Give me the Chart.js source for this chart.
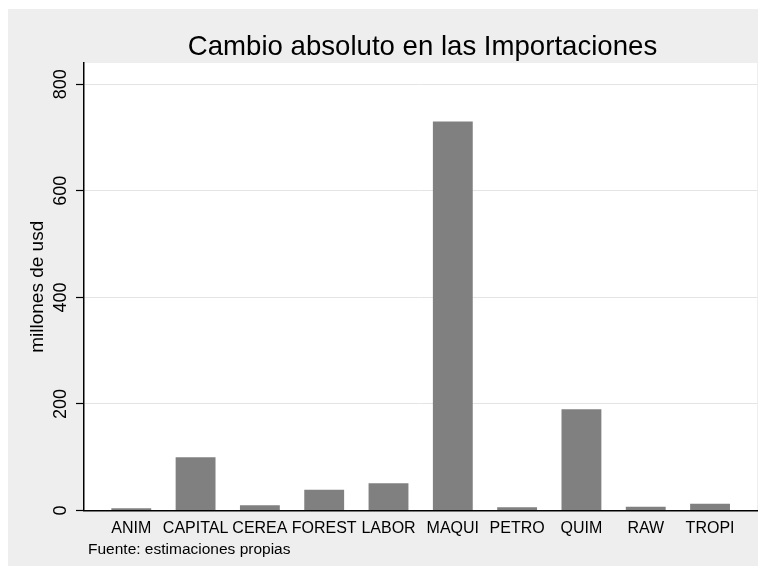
<!DOCTYPE html>
<html>
<head>
<meta charset="utf-8">
<script src="https://cdn.jsdelivr.net/npm/chart.js@4"></script>
<style>
  html, body { margin: 0; padding: 0; background: #fff; }
</style>
</head>
<body>
<canvas id="myChart" width="761" height="574"></canvas>
<script>
// datos del grafico
var categories = ['ANIM', 'CAPITAL', 'CEREA', 'FOREST', 'LABOR', 'MAQUI', 'PETRO', 'QUIM', 'RAW', 'TROPI'];
var values = [4, 100, 10, 39, 51, 730, 6, 190, 7, 12.5];
var yTicks = [0, 200, 400, 600, 800];
var chartTitle = 'Cambio absoluto en las Importaciones';
var yTitle = 'millones de usd';
var note = 'Fuente: estimaciones propias';

var FONT = '"Liberation Sans", Arial, Helvetica, sans-serif';

// fondo gris + region blanca del grafico, y los textos de titulo / nota
var stataLook = {
    id: 'stataLook',
    beforeDraw: function (chart) {
        var ctx = chart.ctx, a = chart.chartArea;
        ctx.save();
        ctx.fillStyle = '#ffffff';
        ctx.fillRect(0, 0, chart.width, chart.height);
        ctx.fillStyle = '#eeeeee';
        ctx.fillRect(8, 9, 750, 557);
        ctx.fillStyle = '#ffffff';
        ctx.fillRect(a.left, a.top, a.right - a.left, a.bottom - a.top);
        ctx.restore();
    },
    afterDraw: function (chart) {
        var ctx = chart.ctx, a = chart.chartArea;
        ctx.save();
        ctx.fillStyle = '#000';
        ctx.textBaseline = 'alphabetic';
        ctx.font = '27.6px ' + FONT;
        ctx.textAlign = 'center';
        ctx.fillText(chartTitle, (a.left + a.right) / 2 + 2, 55);
        ctx.font = '15.5px ' + FONT;
        ctx.textAlign = 'left';
        ctx.fillText(note, 88, 554);
        ctx.restore();
    }
};

var ctx = document.getElementById('myChart').getContext('2d');
var myChart = new Chart(ctx, {
    type: 'bar',
    data: {
        datasets: [{
            data: values.map((v, i) => ({ x: i, y: v })),
            backgroundColor: '#808080',
            borderWidth: 0,
            categoryPercentage: 1,
            barPercentage: 0.62
        }]
    },
    options: {
        responsive: false,
        animation: false,
        devicePixelRatio: 1,
        layout: { padding: { left: 8, right: 4, top: 63, bottom: 0 } },
        plugins: {
            legend: { display: false },
            tooltip: { enabled: false },
            title: { display: false }
        },
        scales: {
            x: {
                type: 'linear',
                offset: false,
                min: -0.735,
                max: 9.73,
                afterBuildTicks: s => { s.ticks = categories.map((c, i) => ({ value: i })); },
                afterFit: s => { s.height = 63.5; },
                grid: { display: false, drawTicks: false },
                border: { display: true, color: '#000', width: 1.5 },
                ticks: {
                    autoSkip: false,
                    maxRotation: 0,
                    minRotation: 0,
                    padding: 8,
                    color: '#000',
                    font: { family: FONT, size: 16 },
                    callback: v => categories[v]
                }
            },
            y: {
                min: 0,
                max: 840,
                afterBuildTicks: s => { s.ticks = yTicks.map(v => ({ value: v })); },
                afterFit: s => { s.width = 76; },
                grid: { color: '#e4e4e4', lineWidth: 1, drawTicks: true, tickLength: 8, tickColor: '#000', tickWidth: 1.2 },
                border: { display: true, color: '#000', width: 1.5 },
                ticks: {
                    minRotation: 90,
                    maxRotation: 90,
                    crossAlign: 'center',
                    padding: 0,
                    color: '#000',
                    font: { family: FONT, size: 18 }
                },
                title: {
                    display: true,
                    text: yTitle,
                    color: '#000',
                    font: { family: FONT, size: 19 },
                    padding: { top: 18, bottom: 0 }
                }
            }
        }
    },
    plugins: [stataLook]
});
</script>
</body>
</html>
